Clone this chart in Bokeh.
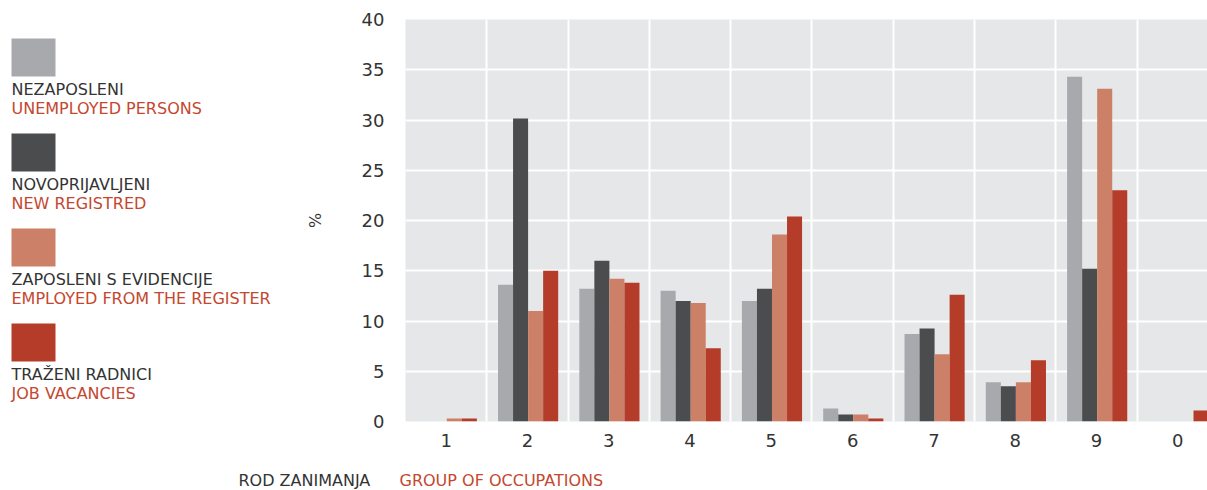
from bokeh.plotting import figure
from bokeh.models import Range1d, FixedTicker, ColumnDataSource
from bokeh.layouts import row, column
from bokeh.transform import dodge
from bokeh.core.properties import value
from bokeh.embed import file_html
from bokeh.resources import INLINE

categories = ["1", "2", "3", "4", "5", "6", "7", "8", "9", "0"]
unemployed = [0.0, 13.6, 13.2, 13.0, 12.0, 1.3, 8.7, 3.9, 34.3, 0.0]
new_registered = [0.0, 30.15, 16.0, 12.0, 13.2, 0.7, 9.25, 3.5, 15.2, 0.0]
employed_from_register = [0.3, 11.0, 14.2, 11.8, 18.6, 0.7, 6.7, 3.9, 33.1, 0.0]
job_vacancies = [0.3, 15.0, 13.8, 7.3, 20.4, 0.3, 12.6, 6.1, 23.0, 1.1]

series_hr = ["NEZAPOSLENI", "NOVOPRIJAVLJENI", "ZAPOSLENI S EVIDENCIJE", "TRAŽENI RADNICI"]
series_en = ["UNEMPLOYED PERSONS", "NEW REGISTRED", "EMPLOYED FROM THE REGISTER", "JOB VACANCIES"]
colors = ["#a8a9ac", "#4b4c4e", "#cd8068", "#b43c28"]
y_ticks = [0, 5, 10, 15, 20, 25, 30, 35, 40]

FONT = "DejaVu Sans"
DARK = "#333333"
RED = "#c4472f"

TOP, BOTTOM = 19, 39   # shared frame borders (px)

# ---------- main chart ----------
pos = [i + 0.5 for i in range(len(categories))]
src = ColumnDataSource(dict(x=pos, a=unemployed, b=new_registered,
                            c=employed_from_register, d=job_vacancies))

main = figure(width=909, height=460, output_backend="svg", toolbar_location=None,
              x_range=Range1d(0, 9.865), y_range=Range1d(0, 40),
              min_border_left=107, min_border_right=0, min_border_top=TOP,
              min_border_bottom=BOTTOM)
main.background_fill_color = "#e6e7e8"
main.border_fill_color = "white"
main.outline_line_color = None

bw = 0.185
for j, (col, c) in enumerate(zip(["a", "b", "c", "d"], colors)):
    main.vbar(x=dodge("x", (j - 1.5) * bw + 0.008, range=main.x_range), top=col,
              width=bw, source=src, fill_color=c, line_color=None)

main.xaxis.ticker = FixedTicker(ticks=pos)
main.xaxis.major_label_overrides = {p: c for p, c in zip(pos, categories)}
main.yaxis.ticker = FixedTicker(ticks=y_ticks)
for ax in (main.xaxis[0], main.yaxis[0]):
    ax.axis_line_color = None
    ax.major_tick_line_color = None
    ax.minor_tick_line_color = None
    ax.major_label_text_font = FONT
    ax.major_label_text_font_size = "18px"
    ax.major_label_text_color = DARK
main.xaxis.major_label_standoff = 6
main.yaxis.major_label_standoff = 15
main.yaxis.axis_label = "%"
main.yaxis.axis_label_text_font = FONT
main.yaxis.axis_label_text_font_style = "normal"
main.yaxis.axis_label_text_font_size = "16px"
main.yaxis.axis_label_text_color = DARK
main.yaxis.axis_label_standoff = 34

main.xgrid.ticker = FixedTicker(ticks=list(range(1, 10)))
main.ygrid.ticker = FixedTicker(ticks=y_ticks[1:-1])
for g in (main.xgrid[0], main.ygrid[0]):
    g.grid_line_color = "white"
    g.grid_line_width = 2

# ---------- legend panel (frame aligned with main frame, pixel coords) ----------
leg = figure(width=298, height=460, output_backend="svg", toolbar_location=None,
             x_range=Range1d(0, 298), y_range=Range1d(460 - BOTTOM, TOP),
             x_axis_type=None, y_axis_type=None,
             min_border_left=0, min_border_right=0, min_border_top=TOP,
             min_border_bottom=BOTTOM)
leg.outline_line_color = None
leg.grid.visible = False
tops = [38 + i * 95 for i in range(4)]
leg.quad(left=[11] * 4, right=[55] * 4, top=tops, bottom=[t + 38 for t in tops],
         fill_color=colors, line_color=None)
leg.text(x=[11] * 4, y=[t + 51 for t in tops], text=series_hr,
         text_font=value(FONT), text_font_size="16px", text_color=DARK,
         text_baseline="middle")
leg.text(x=[11] * 4, y=[t + 70 for t in tops], text=series_en,
         text_font=value(FONT), text_font_size="16px", text_color=RED,
         text_baseline="middle")

# ---------- caption ----------
cap = figure(width=1207, height=30, output_backend="svg", toolbar_location=None,
             x_range=Range1d(0, 1207), y_range=Range1d(490, 460),
             x_axis_type=None, y_axis_type=None,
             min_border_left=0, min_border_right=0, min_border_top=0, min_border_bottom=0)
cap.outline_line_color = None
cap.grid.visible = False
cap.text(x=[238], y=[480], text=["ROD ZANIMANJA"], text_font=value(FONT),
         text_font_size="16px", text_color=DARK, text_baseline="middle")
cap.text(x=[399], y=[480], text=["GROUP OF OCCUPATIONS"], text_font=value(FONT),
         text_font_size="16px", text_color=RED, text_baseline="middle")

layout = column(row(leg, main), cap)
open("out.html", "w").write(file_html(layout, INLINE))
